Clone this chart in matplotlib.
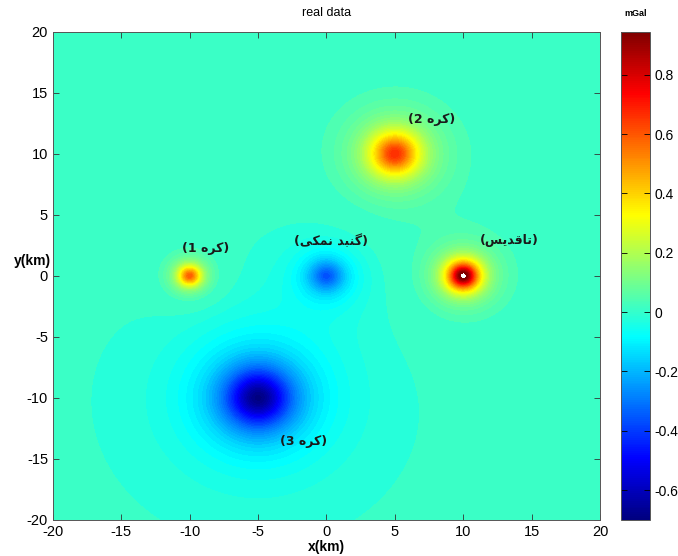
import numpy as np
import matplotlib
matplotlib.use("Agg")
import matplotlib.pyplot as plt
from matplotlib.colors import Normalize, LinearSegmentedColormap
from matplotlib.cm import ScalarMappable

# Anomaly sources: spheres 1-3, salt dome, anticline
src_x = [-10.0, 5.0, -5.0, 0.0, 10.0]
src_y = [0.0, 10.0, -10.0, 0.0, 0.0]
src_depth = [1.0, 2.1, 3.1, 1.7, 1.3]      # km
src_peak = [0.60, 0.67, -0.70, -0.36, 1.00]  # mGal at the apex

cbar_ticks = [-0.6, -0.4, -0.2, 0, 0.2, 0.4, 0.6, 0.8]
axis_ticks = [-20, -15, -10, -5, 0, 5, 10, 15, 20]

# Persian labels, written in presentation forms in visual (left-to-right) order
kore = "\uFEE9\uFEAE\uFB90"                                     # کره
gonbad_namaki = "\uFBFD\uFB91\uFEE4\uFEE7 \uFEAA\uFE92\uFEE8\uFB94"  # گنبد نمکی
taghdis = "\uFEB2\uFBFE\uFEAA\uFED7\uFE8E\uFE97"                # تاقدیس
label_text = ["(1 " + kore + ")", "(2 " + kore + ")", "(3 " + kore + ")",
              "(" + gonbad_namaki + ")", "(" + taghdis + ")"]
label_x = [-8.8, 7.7, -1.7, 0.3, 13.4]
label_y = [2.2, 12.8, -13.6, 2.8, 2.9]

# MATLAB-style jet
jet_m = LinearSegmentedColormap('jet_m', {
    'red':   [(0, 0, 0), (0.375, 0, 0), (0.625, 1, 1), (0.875, 1, 1), (1, 0.5, 0.5)],
    'green': [(0, 0, 0), (0.125, 0, 0), (0.375, 1, 1), (0.625, 1, 1), (0.875, 0, 0), (1, 0, 0)],
    'blue':  [(0, 0.5, 0.5), (0.125, 1, 1), (0.375, 1, 1), (0.625, 0, 0), (1, 0, 0)],
}, N=256)

# forward gravity of buried spheres on a 0.1 km grid
x = np.linspace(-20, 20, 401)
y = np.linspace(-20, 20, 401)
X, Y = np.meshgrid(x, y)
g = np.zeros_like(X)
for sx, sy, z, a in zip(src_x, src_y, src_depth, src_peak):
    r2 = (X - sx) ** 2 + (Y - sy) ** 2
    g += a * z ** 3 / (r2 + z ** 2) ** 1.5

vmin, vmax = -0.70, 0.945
norm = Normalize(vmin=vmin, vmax=vmax)
# fine steps, with one wider band around zero for the background
levels = np.r_[np.linspace(-0.73, -0.01, 37), np.linspace(0.03, 0.95, 47)]

plt.rcParams['font.family'] = ['Liberation Sans', 'DejaVu Sans']
plt.rcParams['axes.unicode_minus'] = False

fig = plt.figure(figsize=(6.78, 5.56), dpi=100)
ax = fig.add_axes([0.078, 0.065, 0.807, 0.878])
ax.contourf(X, Y, g, levels=levels, cmap=jet_m, norm=norm)

ax.set_xlim(-20, 20)
ax.set_ylim(-20, 20)
ax.set_xticks(axis_ticks)
ax.set_yticks(axis_ticks)
ax.tick_params(direction='in', top=True, right=True, length=4, width=0.6,
               labelsize=10.5, colors='#333333', labelcolor='black')
for s in ax.spines.values():
    s.set_color('#555555')
    s.set_linewidth(0.7)

ax.set_title('real data', fontsize=9, pad=11)
ax.set_xlabel('x(km)', fontsize=10, fontweight='bold', labelpad=1)
ax.text(-0.003, 0.53, 'y(km)', transform=ax.transAxes, ha='right', va='center',
        fontsize=10, fontweight='bold')

for t, lx, ly in zip(label_text, label_x, label_y):
    ax.text(lx, ly, t, ha='center', va='center', fontsize=9, fontweight='bold',
            color='#1a1a1a', family=['DejaVu Sans'])

# colorbar
cax = fig.add_axes([0.916, 0.065, 0.043, 0.878])
cb = fig.colorbar(ScalarMappable(norm=norm, cmap=jet_m), cax=cax, ticks=cbar_ticks)
cb.ax.tick_params(direction='in', length=4, width=0.6, labelsize=10, left=True, pad=3)
cb.ax.set_yticklabels(['-0.6', '-0.4', '-0.2', '0', '0.2', '0.4', '0.6', '0.8'])
cb.outline.set_edgecolor('#555555')
cb.outline.set_linewidth(0.7)
fig.text(0.938, 0.975, 'mGal', ha='center', va='center', fontsize=6.5, fontweight='bold')

fig.savefig('out.png', dpi=100)
